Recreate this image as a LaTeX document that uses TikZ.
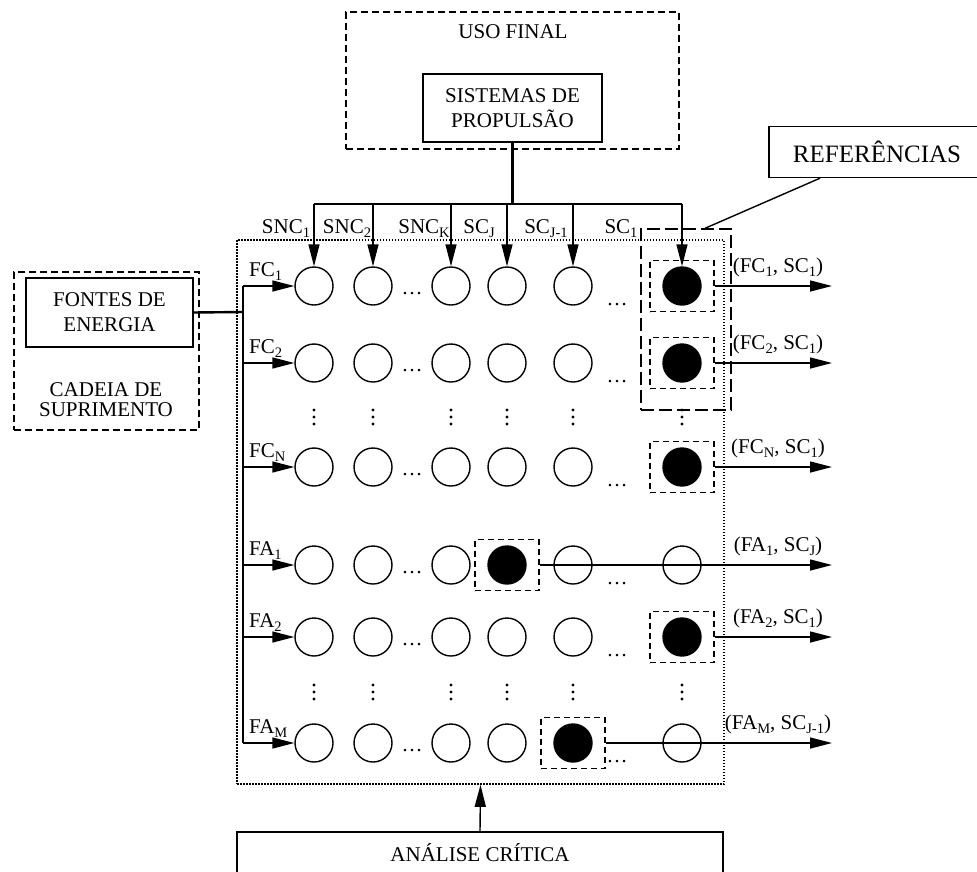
\documentclass[tikz,border=0pt]{standalone}
\usepackage{fontspec}
\setmainfont{Liberation Serif}
\usetikzlibrary{arrows.meta}
\newcommand{\sub}[1]{\raisebox{-4.5pt}{\fontsize{14.5}{15}\selectfont #1}}
\tikzset{
  txt/.style={font=\fontsize{21}{25}\selectfont, inner sep=0pt, align=center},
  box/.style={txt, draw, line width=1.4pt},
  grp/.style={draw, line width=1.4pt, dash pattern=on 7pt off 4pt},
  sel/.style={draw, line width=1.4pt, dash pattern=on 6pt off 4pt, minimum width=64pt, minimum height=51pt, inner sep=0pt},
  dot/.style={circle, draw, line width=1.4pt, minimum size=38pt, inner sep=0pt},
  hit/.style={dot, fill=black},
  tip/.style={-{Triangle[length=22pt,width=11pt]}, line width=1.4pt},
  bus/.style={line width=2.4pt},
}
\begin{document}
\begin{tikzpicture}[x=1pt, y=-1pt]
\useasboundingbox (0,0) rectangle (977,871);

\node[grp, minimum width=333pt, minimum height=137pt] (uso) at (512.5,80.5) {};
\node[txt] at (513,31.5) {USO FINAL};
\node[box, minimum width=179pt, minimum height=68pt] (sis) at (512.5,108) {SISTEMAS DE\\PROPULSÃO};

\node[box, minimum width=167pt, minimum height=69pt] (fon) at (109.5,312.5) {FONTES DE\\ENERGIA};
\node[grp, minimum width=185pt, minimum height=158pt] (cad) at (106.5,351) {};
\node[txt, font=\fontsize{21}{20}\selectfont] at (106,400) {CADEIA DE\\SUPRIMENTO};

\node[box, font=\fontsize{25}{30}\selectfont, minimum width=216pt, minimum height=51pt] (ref) at (877,152) {REFERÊNCIAS};
\node[draw, line width=1.4pt, dash pattern=on 13pt off 5pt, minimum width=90pt, minimum height=181pt] (refbox) at (686,319.5) {};
\draw[line width=1.4pt] ([xshift=-57pt]ref.south) -- ([xshift=19pt]refbox.north);

\node[draw, line width=1.6pt, dash pattern=on 1.5pt off 1.5pt, minimum width=487pt, minimum height=544pt] (grid) at (480.5,512) {};
\node[box, minimum width=486pt, minimum height=42pt] (ana) at (480,853) {ANÁLISE CRÍTICA};
\draw[tip] (ana.north) -- (grid.south);

\coordinate (top) at (512.5,204);
\coordinate (bus) at (243,312);
\draw[bus] (sis.south) -- (top);
\draw[bus] (fon.east) -- (bus);

\foreach \j/\x in {1/314, 2/373, 3/451, 4/507, 5/573, 6/682}
  \coordinate (t\j) at (\x,204);
\draw[line width=1.6pt] (t1) -- (t6);

\node[txt, anchor=base] at (286,233) {SNC\sub{1}};
\node[txt, anchor=base] at (347,233) {SNC\sub{2}};
\node[txt, anchor=base] at (424,233) {SNC\sub{K}};
\node[txt, anchor=base] at (479,233) {SC\sub{J}};
\node[txt, anchor=base] at (546,233) {SC\sub{J-1}};
\node[txt, anchor=base] at (621,233) {SC\sub{1}};

\foreach \rw/\yy/\ff/\rl/\ol in {
  fc1/286/6/{FC\sub{1}}/{(FC\sub{1}, SC\sub{1})},
  fc2/363/6/{FC\sub{2}}/{(FC\sub{2}, SC\sub{1})},
  fcn/467/6/{FC\sub{N}}/{(FC\sub{N}, SC\sub{1})},
  fa1/565/4/{FA\sub{1}}/{(FA\sub{1}, SC\sub{J})},
  fa2/637/6/{FA\sub{2}}/{(FA\sub{2}, SC\sub{1})},
  fam/743/5/{FA\sub{M}}/{(FA\sub{M}, SC\sub{J-1})}}{
  \foreach \j/\x in {1/314, 2/373, 3/451, 4/507, 5/573, 6/682}{
    \ifnum\j=\ff
      \node[hit] (\rw-\j) at (\x,\yy) {};
      \node[sel] (s-\rw) at (\x,\yy) {};
    \else
      \node[dot] (\rw-\j) at (\x,\yy) {};
    \fi
  }
  \node[txt] at (412,\yy+8) {\ldots};
  \node[txt] at (617,\yy+19) {\ldots};
  \coordinate (\rw-in) at (243,\yy);
  \coordinate (\rw-out) at (832,\yy);
  \draw[tip] (\rw-in) -- (\rw-1);
  \draw[tip] (s-\rw.east) -- (\rw-out);
  \node[txt, anchor=base west] at (249,\yy-10) {\rl};
  \node[txt, anchor=base] at (778,\yy-14) {\ol};
}
\draw[bus] (fc1-in) -- (fam-in);

\foreach \j in {1,...,6}
  \draw[tip] (t\j) -- (fc1-\j);

\foreach \x in {314, 373, 451, 507, 573, 682}
  \foreach \yy in {417, 692}
    \foreach \d in {-7, 0, 7}
      \fill (\x,\yy+\d) circle (1.6pt);
\end{tikzpicture}
\end{document}
